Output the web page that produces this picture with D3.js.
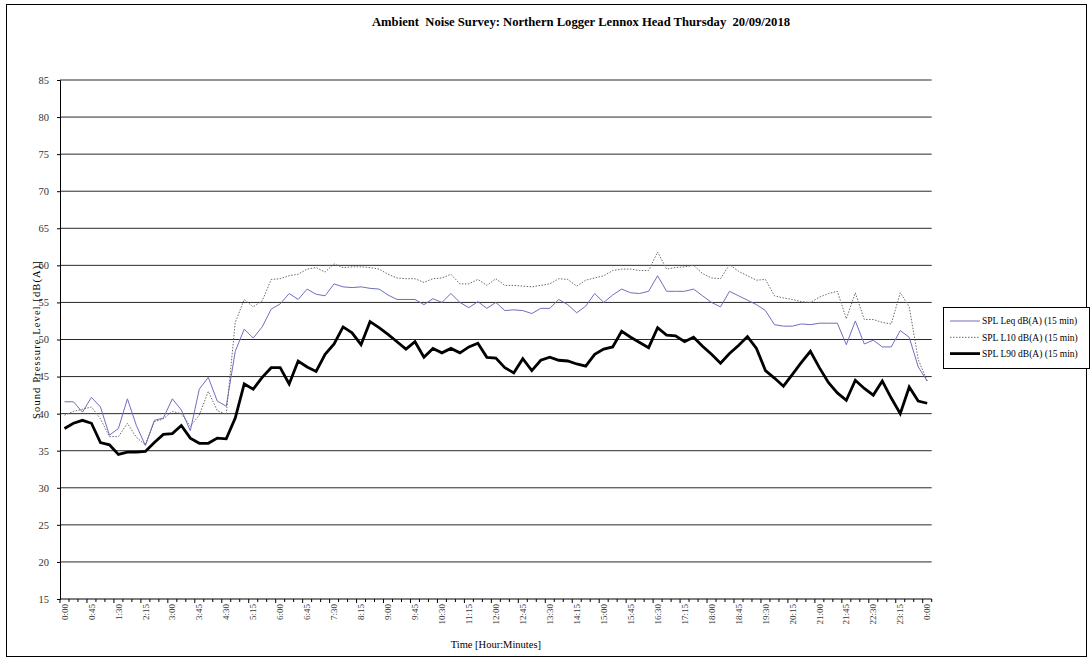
<!DOCTYPE html>
<html>
<head>
<meta charset="utf-8">
<script src="https://cdn.jsdelivr.net/npm/d3@7"></script>
<style>
  html, body { margin: 0; padding: 0; background: #fff; }
  svg { display: block; }
  text { font-family: "Liberation Serif", "Times New Roman", serif; white-space: pre; }
</style>
</head>
<body>
<div id="chart"></div>
<script>
// 15-minute intervals across the day (last sample is midnight of the following day)
const times = [
  "0:00","0:15","0:30","0:45","1:00","1:15","1:30","1:45","2:00","2:15","2:30","2:45",
  "3:00","3:15","3:30","3:45","4:00","4:15","4:30","4:45","5:00","5:15","5:30","5:45",
  "6:00","6:15","6:30","6:45","7:00","7:15","7:30","7:45","8:00","8:15","8:30","8:45",
  "9:00","9:15","9:30","9:45","10:00","10:15","10:30","10:45","11:00","11:15","11:30","11:45",
  "12:00","12:15","12:30","12:45","13:00","13:15","13:30","13:45","14:00","14:15","14:30","14:45",
  "15:00","15:15","15:30","15:45","16:00","16:15","16:30","16:45","17:00","17:15","17:30","17:45",
  "18:00","18:15","18:30","18:45","19:00","19:15","19:30","19:45","20:00","20:15","20:30","20:45",
  "21:00","21:15","21:30","21:45","22:00","22:15","22:30","22:45","23:00","23:15","23:30","23:45",
  "0:00"
];

// Labelled categories on the time axis (every 45 minutes)
const tickEvery = 3;

const yTicks = [15,20,25,30,35,40,45,50,55,60,65,70,75,80,85];

const leq = [
  41.6,41.6,40.2,42.2,40.9,37.1,38.0,42.0,38.4,35.7,39.1,39.4,
  42.0,40.5,37.7,43.3,44.9,41.7,41.0,48.4,51.4,50.2,51.7,54.1,
  54.8,56.2,55.4,56.8,56.1,55.9,57.5,57.1,57.0,57.1,56.9,56.8,
  56.0,55.4,55.4,55.4,54.7,55.5,55.0,56.2,55.0,54.3,55.1,54.2,
  55.0,53.9,54.0,53.9,53.5,54.2,54.2,55.4,54.7,53.6,54.5,56.2,
  55.0,56.0,56.8,56.3,56.2,56.5,58.6,56.5,56.5,56.5,56.8,55.9,
  55.0,54.4,56.5,55.9,55.3,54.7,53.9,52.0,51.8,51.8,52.1,52.0,
  52.2,52.2,52.2,49.3,52.5,49.4,49.9,49.0,49.0,51.2,50.3,46.3,
  44.4
];

const l10 = [
  39.8,40.3,40.6,40.9,39.3,36.9,36.9,38.7,36.8,35.8,38.9,39.3,
  40.3,40.0,38.3,39.8,43.0,40.4,39.9,52.3,55.4,54.4,55.2,58.1,
  58.2,58.6,58.8,59.5,59.7,59.1,60.2,59.7,59.8,59.8,59.7,59.5,
  58.8,58.3,58.2,58.2,57.7,58.2,58.3,58.8,57.5,57.5,58.1,57.3,
  58.2,57.3,57.3,57.2,57.1,57.3,57.5,58.2,58.1,57.2,58.0,58.3,
  58.6,59.3,59.5,59.5,59.3,59.3,61.8,59.5,59.7,59.8,60.0,58.9,
  58.3,58.2,60.1,59.2,58.6,58.0,58.1,55.9,55.6,55.4,55.1,55.0,
  55.7,56.2,56.5,52.8,56.3,52.7,52.7,52.3,52.1,56.3,54.4,47.3,
  44.4
];

const l90 = [
  38.0,38.7,39.1,38.7,36.1,35.8,34.5,34.8,34.8,34.9,36.1,37.2,
  37.3,38.4,36.7,36.0,36.0,36.7,36.6,39.4,44.0,43.3,44.9,46.2,
  46.2,44.0,47.1,46.3,45.7,48.0,49.4,51.7,50.9,49.3,52.4,51.6,
  50.7,49.7,48.7,49.7,47.6,48.8,48.2,48.8,48.2,49.0,49.5,47.6,
  47.5,46.2,45.5,47.4,45.8,47.2,47.6,47.2,47.1,46.7,46.4,48.0,
  48.7,49.0,51.1,50.3,49.6,48.9,51.6,50.6,50.5,49.7,50.3,49.1,
  48.0,46.8,48.1,49.2,50.4,48.8,45.8,44.8,43.7,45.3,46.9,48.4,
  46.2,44.2,42.8,41.8,44.5,43.4,42.5,44.4,42.1,40.0,43.6,41.7,
  41.4
];

const seriesNames = [
  "SPL Leq dB(A) (15 min)",
  "SPL L10 dB(A) (15 min)",
  "SPL L90 dB(A) (15 min)"
];

const W = 1091, H = 659;
const plot = { left: 60, right: 931.7, top: 80, bottom: 599 };

const svg = d3.select("#chart").append("svg")
  .attr("width", W).attr("height", H);

svg.append("rect").attr("width", W).attr("height", H).attr("fill", "#fff");

// outer frame
svg.append("rect")
  .attr("x", 6.5).attr("y", 4.5)
  .attr("width", 1080).attr("height", 652)
  .attr("fill", "none").attr("stroke", "#000").attr("stroke-width", 1);

const idx = d3.range(times.length);
const x = d3.scaleBand().domain(idx).range([plot.left, plot.right]).paddingInner(0).paddingOuter(0);
const cx = i => x(i) + x.bandwidth() / 2;
const y = d3.scaleLinear().domain([15, 85]).range([plot.bottom, plot.top]);

// horizontal grid
svg.append("g")
  .selectAll("line")
  .data(yTicks.filter(v => v > 15))
  .join("line")
  .attr("x1", plot.left).attr("x2", plot.right)
  .attr("y1", d => y(d)).attr("y2", d => y(d))
  .attr("stroke", "#2a2a2a").attr("stroke-width", 1);

// title
svg.append("text")
  .attr("x", 581).attr("y", 26)
  .attr("text-anchor", "middle")
  .attr("font-size", 12).attr("font-weight", "bold")
  .attr("textLength", 418).attr("lengthAdjust", "spacingAndGlyphs")
  .text("Ambient  Noise Survey: Northern Logger Lennox Head Thursday  20/09/2018");

// y axis
const yAxis = d3.axisLeft(y).tickValues(yTicks).tickSize(3).tickPadding(8);
const gy = svg.append("g").attr("transform", `translate(${plot.left},0)`).call(yAxis);
gy.select(".domain").attr("stroke", "#000");
gy.selectAll(".tick line").attr("stroke", "#000");
gy.selectAll(".tick text")
  .attr("font-family", "Liberation Serif, serif")
  .attr("font-size", 10.5).attr("fill", "#333");

// x axis: a tick at every category boundary, a label every 45 minutes
const gx = svg.append("g").attr("transform", `translate(0,${plot.bottom})`);
gx.append("line")
  .attr("x1", plot.left).attr("x2", plot.right)
  .attr("stroke", "#000").attr("stroke-width", 1.2);
gx.selectAll("line.tk")
  .data(d3.range(times.length + 1))
  .join("line").attr("class", "tk")
  .attr("x1", i => i < times.length ? x(i) : plot.right)
  .attr("x2", i => i < times.length ? x(i) : plot.right)
  .attr("y1", 0).attr("y2", i => i % tickEvery === 0 ? 4 : 3)
  .attr("stroke", "#000");
gx.selectAll("text")
  .data(idx.filter(i => i % tickEvery === 0))
  .join("text")
  .attr("transform", i => `translate(${cx(i)},5) rotate(-90)`)
  .attr("dy", "0.35em")
  .attr("text-anchor", "end")
  .attr("font-size", 9).attr("fill", "#333")
  .text(i => times[i]);

// axis titles
svg.append("text")
  .attr("transform", `translate(40,${(plot.top + plot.bottom) / 2}) rotate(-90)`)
  .attr("text-anchor", "middle")
  .attr("font-size", 10.5)
  .attr("letter-spacing", 1.1)
  .text("Sound Pressure Level [dB(A)]");

svg.append("text")
  .attr("x", (plot.left + plot.right) / 2).attr("y", 648)
  .attr("text-anchor", "middle")
  .attr("font-size", 10.5)
  .text("Time [Hour:Minutes]");

// series
const line = d3.line().x((d, i) => cx(i)).y(d => y(d));
const styles = [
  { data: leq, stroke: "#6e6ebf", width: 1, dash: null },
  { data: l10, stroke: "#6a6a6a", width: 1, dash: "1.5,1.5" },
  { data: l90, stroke: "#000", width: 2.8, dash: null }
];
styles.forEach(s => {
  svg.append("path")
    .datum(s.data)
    .attr("fill", "none")
    .attr("stroke", s.stroke)
    .attr("stroke-width", s.width)
    .attr("stroke-dasharray", s.dash)
    .attr("stroke-linejoin", "miter")
    .attr("d", line);
});

// legend
const lg = svg.append("g");
lg.append("rect")
  .attr("x", 943.5).attr("y", 307.5)
  .attr("width", 146).attr("height", 61)
  .attr("fill", "#fff").attr("stroke", "#000");
const rows = lg.selectAll("g.row")
  .data(styles.map((s, i) => ({ ...s, name: seriesNames[i] })))
  .join("g").attr("class", "row")
  .attr("transform", (d, i) => `translate(0,${321 + i * 16.3})`);
rows.append("line")
  .attr("x1", 950).attr("x2", 980)
  .attr("stroke", d => d.stroke)
  .attr("stroke-width", d => d.width)
  .attr("stroke-dasharray", d => d.dash);
rows.append("text")
  .attr("x", 982).attr("dy", "0.35em")
  .attr("font-size", 9.5)
  .text(d => d.name);
</script>
</body>
</html>
